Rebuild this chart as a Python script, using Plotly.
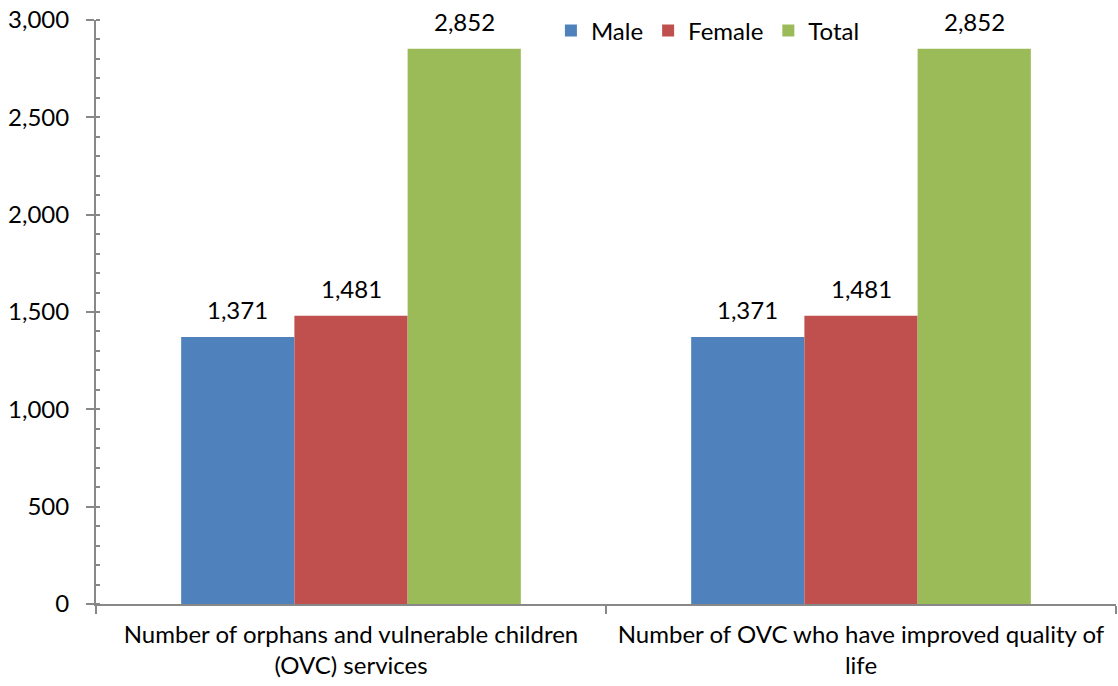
import plotly.graph_objects as go

categories = ["Number of orphans and vulnerable children<br>(OVC) services",
              "Number of OVC who have improved quality of<br>life"]
series_names = ["Male", "Female", "Total"]
male = [1371, 1371]
female = [1481, 1481]
total = [2852, 2852]
colors = ["#4F81BD", "#C0504D", "#9BBB59"]

FONT = "Lato"
FS = 24
W, H = 1118, 686
ML, MR, MT, MB = 96, 2, 20, 82
BARGAP = 0.334

fig = go.Figure()
for name, vals, c in zip(series_names, [male, female, total], colors):
    fig.add_trace(go.Bar(
        x=categories, y=vals, name=name, marker=dict(color=c, line=dict(width=0)),
    ))

# data labels placed above each bar
plot_w = W - ML - MR
bar_px = plot_w / len(categories) * (1 - BARGAP) / len(series_names)
for i, vals in enumerate([male, female, total]):
    for cat, v in zip(categories, vals):
        fig.add_annotation(x=cat, y=v, text=f"{v:,}", showarrow=False,
                           xanchor="center", yanchor="bottom",
                           xshift=(i - 1) * bar_px, yshift=11,
                           font=dict(family=FONT, size=FS, color="#000000"))

fig.update_layout(
    width=W, height=H,
    margin=dict(l=ML, r=MR, t=MT, b=MB),
    plot_bgcolor="white", paper_bgcolor="white",
    barmode="group", bargap=BARGAP, bargroupgap=0,
    font=dict(family=FONT, size=FS, color="#000000"),
    legend=dict(orientation="h", x=0.446, y=1.02, xanchor="left", yanchor="top",
                font=dict(family=FONT, size=FS), bgcolor="rgba(0,0,0,0)"),
    showlegend=True,
)
fig.update_yaxes(range=[0, 3000], dtick=500, tickformat=",", showgrid=False, zeroline=False,
                 showline=True, linecolor="#888888", linewidth=2,
                 ticks="outside", ticklen=8, tickcolor="#888888", tickwidth=2,
                 ticklabelstandoff=12, ticklabeloverflow="allow", automargin=False,
                 minor=dict(dtick=100, ticks="inside", ticklen=4, tickcolor="#888888", tickwidth=2),
                 tickfont=dict(family=FONT, size=FS))
fig.update_xaxes(showgrid=False, showline=True, linecolor="#888888", linewidth=2,
                 ticks="outside", tickson="boundaries", ticklen=8, tickcolor="#888888", tickwidth=2,
                 ticklabelstandoff=8, ticklabeloverflow="allow", automargin=False,
                 tickfont=dict(family=FONT, size=FS))

fig.write_html("out.html", config={"displayModeBar": False},
               post_script="document.body.style.margin='0';")
